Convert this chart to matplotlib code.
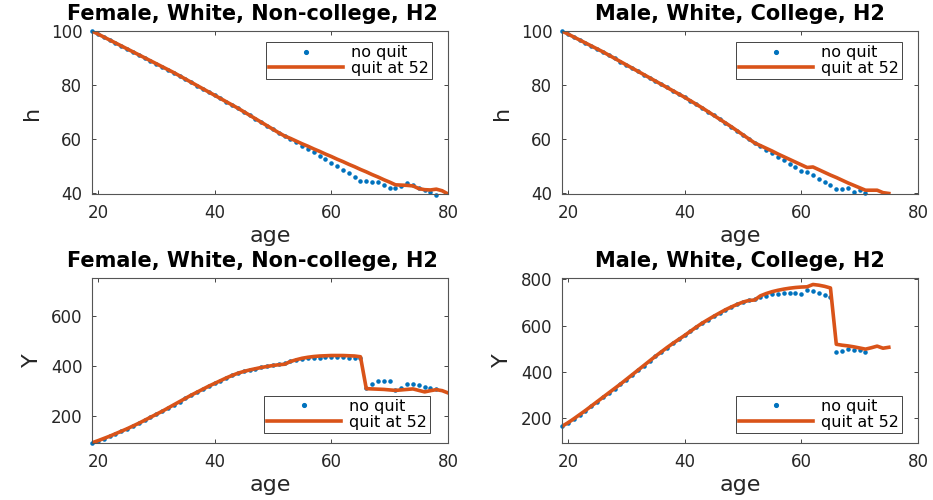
import matplotlib
matplotlib.use('Agg')
import matplotlib.pyplot as plt

# ages
age_f = list(range(19, 81))
age_m = list(range(19, 76))

# health h, female white non-college
h_f_early = [100.0, 98.9, 97.8, 96.7, 95.6, 94.5, 93.4, 92.3, 91.2, 90.1, 89.0, 87.9,
             86.8, 85.7, 84.6, 83.4, 82.2, 81.0, 79.8, 78.6, 77.4, 76.2, 75.0, 73.8,
             72.6, 71.4, 70.1, 68.8, 67.5, 66.2, 64.9, 63.6, 62.3, 61.1]          # 19-52
h_f_noquit_late = [60.0, 58.8, 57.5, 56.2, 55.0, 53.7, 52.4, 51.0, 49.8, 48.5, 47.3,
                   46.0, 44.6, 44.3, 44.1, 44.2, 42.9, 41.8, 41.8, 42.4, 43.6, 42.9,
                   42.0, 41.1, 40.3, 39.1]                                         # 53-78
h_f_quit_late = [60.2, 59.2, 58.2, 57.3, 56.3, 55.4, 54.4, 53.5, 52.5, 51.6, 50.6, 49.7,
                 48.7, 47.8, 46.8, 45.9, 44.9, 44.0, 43.0, 42.9, 42.8, 42.6, 41.6, 41.2,
                 41.1, 41.4, 40.8, 39.6]                                           # 53-80

# health h, male white college
h_m_early = [100.0, 98.9, 97.8, 96.7, 95.6, 94.5, 93.4, 92.3, 91.1, 89.9, 88.7, 87.5,
             86.3, 85.1, 83.9, 82.7, 81.5, 80.3, 79.1, 77.9, 76.7, 75.5, 74.2, 72.9,
             71.6, 70.2, 68.8, 67.4, 66.0, 64.6, 63.1, 61.6, 60.1, 58.6]          # 19-52
h_m_noquit_late = [57.3, 56.1, 54.8, 53.5, 52.1, 50.9, 49.6, 48.1, 48.0, 46.7, 45.3,
                   44.2, 43.1, 41.6, 41.7, 41.8, 40.5, 41.0, 39.9]                 # 53-71
h_m_quit_late = [57.6, 56.6, 55.6, 54.5, 53.5, 52.5, 51.5, 50.5, 49.5, 49.7, 48.7, 47.7,
                 46.7, 45.8, 44.8, 43.8, 42.9, 42.0, 41.1, 41.1, 41.1, 40.2, 39.9]  # 53-75

# income Y, female
y_f_early = [93, 101, 110, 119, 129, 139, 149, 160, 171, 183, 195, 207, 219, 232, 245,
             258, 271, 284, 296, 308, 320, 331, 342, 353, 363, 372, 379, 385, 390, 395,
             399]                                                                  # 19-49
y_f_noquit_late = [404, 409, 414, 420, 425, 429, 432, 434, 435, 436, 436, 436, 436, 435,
                   434, 433, 312, 328, 342, 342, 342, 305, 313, 329, 327, 323, 318, 311,
                   307]                                                            # 50-78
y_f_quit_late = [403, 406, 408, 419, 426, 432, 436, 439, 441, 442, 443, 443, 443, 442,
                 441, 438, 310, 309, 308, 307, 305, 303, 305, 307, 309, 303, 297, 302,
                 306, 302, 293]                                                    # 50-80

# income Y, male
y_m_early = [165, 180, 197, 215, 233, 252, 271, 290, 309, 328, 347, 367, 387, 407, 427,
             447, 467, 486, 505, 523, 540, 557, 575, 593, 610, 625, 640, 654, 668, 680,
             691, 701, 708]                                                        # 19-51
y_m_noquit_late = [716, 722, 729, 735, 738, 740, 740, 740, 737, 755, 748, 742, 733, 722,
                   485, 490, 499, 493, 493, 485]                                   # 52-71
y_m_quit_late = [710, 728, 738, 746, 752, 757, 761, 764, 766, 767, 777, 774, 769, 762,
                 519, 515, 512, 508, 503, 498, 504, 511, 502, 506]                 # 52-75

h_f_noquit = h_f_early + h_f_noquit_late
h_f_quit = h_f_early + h_f_quit_late
h_m_noquit = h_m_early + h_m_noquit_late
h_m_quit = h_m_early + h_m_quit_late
y_f_noquit = y_f_early + y_f_noquit_late
y_f_quit = y_f_early + y_f_quit_late
y_m_noquit = y_m_early + y_m_noquit_late
y_m_quit = y_m_early + y_m_quit_late

title_f = 'Female, White, Non-college, H2'
title_m = 'Male, White, College, H2'

blue = '#0072BD'
orange = '#D95319'
W, H = 933, 500

plt.rcParams['font.family'] = ['DejaVu Sans']

fig = plt.figure(figsize=(W / 100, H / 100), dpi=100)


def rect(left, top, right, bottom):
    return [left / W, 1 - bottom / H, (right - left) / W, (bottom - top) / H]


def panel(r, xn, yn, xq, yq, ylab, ylim, yticks, title, tx, legloc, anchor):
    ax = fig.add_axes(r)
    ax.plot(xn, yn, '.', color=blue, markersize=4.5, label='no quit', clip_on=False)
    ax.plot(xq, yq, '-', color=orange, linewidth=2.6, label='quit at 52')
    ax.set_xlim(19, 80)
    ax.set_ylim(*ylim)
    ax.set_xticks([20, 40, 60, 80])
    ax.set_yticks(yticks)
    ax.tick_params(direction='in', top=True, right=True, length=3, width=0.6,
                   labelsize=12, colors='#262626', pad=7)
    for s in ax.spines.values():
        s.set_color('#555555')
        s.set_linewidth(0.8)
    ax.set_xlabel('age', fontsize=16, color='#262626', labelpad=3)
    ax.set_ylabel(ylab, fontsize=16, color='#262626', labelpad=6)
    ax.set_title(title, x=tx, fontsize=15, fontweight='bold', pad=8)
    leg = ax.legend(loc=legloc, bbox_to_anchor=anchor, fontsize=11.5, numpoints=1,
                    handlelength=4.6, handletextpad=0.5, borderpad=0.2,
                    labelspacing=0.05, borderaxespad=0, fancybox=False, framealpha=1,
                    markerscale=1.2)
    leg.get_frame().set_edgecolor('#262626')
    leg.get_frame().set_linewidth(0.6)
    return ax


panel(rect(92, 31, 448, 194), age_f[:len(h_f_noquit)], h_f_noquit, age_f, h_f_quit,
      'h', (39.6, 100), [40, 60, 80, 100], title_f, 0.45, 'upper right', (0.955, 0.933))
panel(rect(562, 31, 918, 194), age_m[:len(h_m_noquit)], h_m_noquit, age_m, h_m_quit,
      'h', (39.7, 100), [40, 60, 80, 100], title_m, 0.5, 'upper right', (0.955, 0.933))
panel(rect(92, 278, 448, 443), age_f[:len(y_f_noquit)], y_f_noquit, age_f, y_f_quit,
      'Y', (92, 754), [200, 400, 600], title_f, 0.45, 'lower right', (0.949, 0.061))
panel(rect(562, 278, 918, 443), age_m[:len(y_m_noquit)], y_m_noquit, age_m, y_m_quit,
      'Y', (93, 805), [200, 400, 600, 800], title_m, 0.5, 'lower right', (0.955, 0.061))

fig.savefig('out.png', dpi=100)
